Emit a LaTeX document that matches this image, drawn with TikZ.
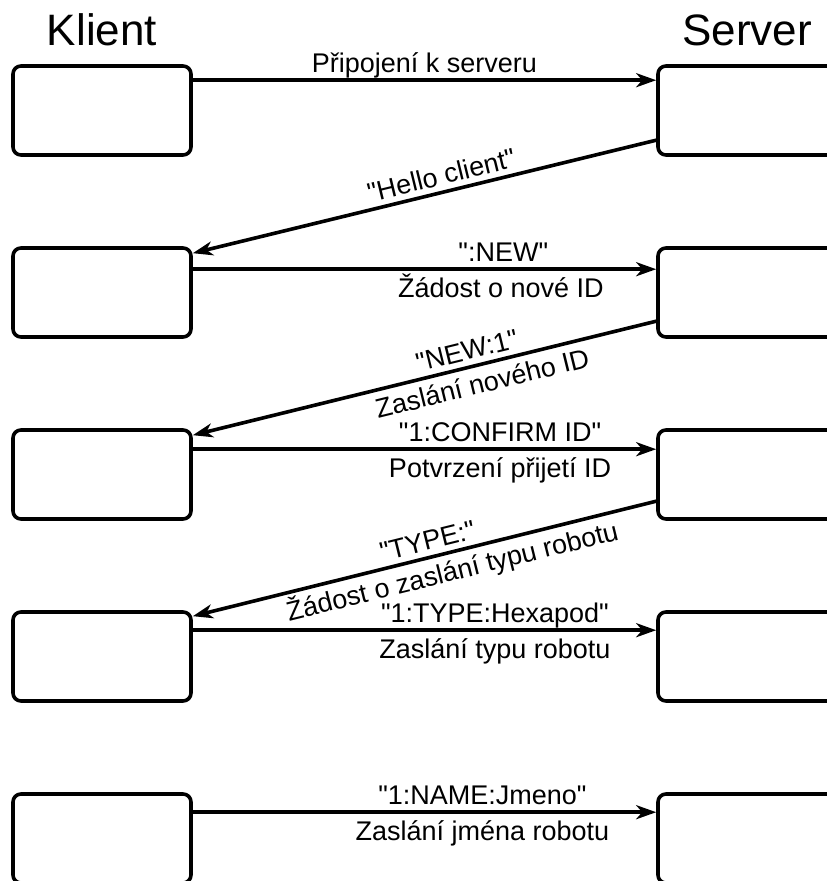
\documentclass[tikz,border=0pt]{standalone}
\usepackage{fontspec}
\setmainfont{Liberation Sans}[Ligatures=TeXOff]
\usetikzlibrary{arrows.meta}

\begin{document}
\begin{tikzpicture}[x=1pt,y=-1pt,
  box/.style={draw, line width=3.6pt, rounded corners=8pt,
    minimum width=178pt, minimum height=89pt, inner sep=0pt},
  srvbox/.style={box, minimum width=200pt},
  msg/.style={line width=3.6pt, -{Stealth[length=20pt,width=14pt,inset=6pt]}},
  lbl/.style={font=\fontsize{27}{31}\selectfont, inner sep=1.5pt},
  up/.style={lbl, above, text depth=4pt},
  dn/.style={lbl, below, text height=25pt},
  head/.style={font=\fontsize{44}{50}\selectfont, anchor=base}]

\useasboundingbox (0,0) rectangle (827,881);

% column headings
\node[head] (klient) at (102,45) {Klient};
\node[head] (server) at (747,45) {Server};

% client boxes (left) and server boxes (right, running off the edge)
\foreach \i/\t in {1/66,2/248,3/430,4/612,5/794} {
  \node[box] (c\i) at (102,\t+44.5) {};
  \node[srvbox] (s\i) at (758,\t+44.5) {};
}

% connection
\draw[msg] ([yshift=-16pt]c1.north east) -- ([yshift=-16pt]s1.north west)
  node[up, pos=0.5] {Připojení k serveru};

% greeting
\draw[msg] ([yshift=-76pt]s1.north west) -- ([yshift=-7pt]c2.north east)
  node[up, sloped, pos=0.455] {"Hello client"};

% ID request
\draw[msg] ([yshift=-23pt]c2.north east) -- ([yshift=-23pt]s2.north west)
  node[up, pos=0.67] {":NEW"}
  node[dn, pos=0.665] {Žádost o nové ID};

% new ID
\draw[msg] ([yshift=-75pt]s2.north west) -- ([yshift=-7pt]c3.north east)
  node[up, sloped, pos=0.4] {"NEW:1"}
  node[dn, sloped, pos=0.385] {Zaslání nového ID};

% ID confirmation
\draw[msg] ([yshift=-21pt]c3.north east) -- ([yshift=-21pt]s3.north west)
  node[up, pos=0.663] {"1:CONFIRM ID"}
  node[dn, pos=0.663] {Potvrzení přijetí ID};

% type request
\draw[msg] ([yshift=-73pt]s3.north west) -- ([yshift=-6pt]c4.north east)
  node[up, sloped, pos=0.485] {"TYPE:"}
  node[dn, sloped, pos=0.45] {Žádost o zaslání typu robotu};

% robot type
\draw[msg] ([yshift=-20pt]c4.north east) -- ([yshift=-20pt]s4.north west)
  node[up, pos=0.652] {"1:TYPE:Hexapod"}
  node[dn, pos=0.652] {Zaslání typu robotu};

% robot name
\draw[msg] ([yshift=-20pt]c5.north east) -- ([yshift=-20pt]s5.north west)
  node[up, pos=0.625] {"1:NAME:Jmeno"}
  node[dn, pos=0.625] {Zaslání jména robotu};
\end{tikzpicture}
\end{document}
